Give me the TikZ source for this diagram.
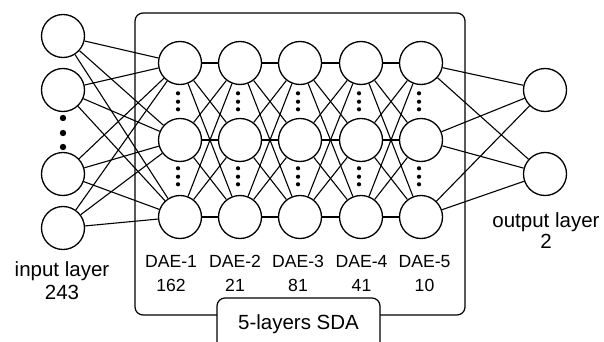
\documentclass[tikz,border=0pt]{standalone}
\usepackage{fontspec}
\setmainfont{Liberation Sans}
\begin{document}
\begin{tikzpicture}[x=1pt,y=-1pt,
  neuron/.style={circle,draw,line width=1.3pt,minimum size=43pt,inner sep=0pt,fill=white},
  link/.style={line width=1.1pt},
  bigdot/.style={circle,fill,inner sep=0pt,minimum size=6.4pt},
  smalldot/.style={circle,fill,inner sep=0pt,minimum size=4.2pt},
  biglabel/.style={font=\fontsize{20.5}{22}\selectfont,anchor=base,inner sep=0pt},
  daelabel/.style={font=\fontsize{17.6}{19}\selectfont,anchor=base,inner sep=0pt},
  frame/.style={draw,line width=1.2pt,rounded corners=8pt,inner sep=0pt}]
\useasboundingbox (0,0) rectangle (604,342);

% stacked autoencoder frame
\node[frame,minimum width=330pt,minimum height=302pt] (sda) at (300,164) {};

% input layer
\foreach \y [count=\i] in {36,90,174,228}
  \node[neuron] (i\i) at (63,\y) {};
\foreach \y [count=\k] in {118,133,147}
  \node[bigdot] (idot\k) at (63,\y) {};

% hidden layers DAE-1 ... DAE-5
\foreach \x [count=\c] in {180,240,300,361,421} {
  \foreach \y [count=\r] in {63,140,217}
    \node[neuron] (h\c\r) at (\x,\y) {};
  \foreach \y [count=\k] in {93.3,101.7,109.3,168.3,176.7,184.3}
    \node[smalldot] (hdot\c\k) at (\x-2,\y) {};
}

% output layer
\foreach \y [count=\j] in {90,174}
  \node[neuron] (o\j) at (545,\y) {};

% input -> DAE-1
\foreach \i in {1,...,4}
  \foreach \r in {1,2,3}
    \draw[link] (i\i) -- (h1\r);

% DAE-k -> DAE-(k+1)
\foreach \c [evaluate=\c as \n using int(\c+1)] in {1,...,4}
  \foreach \r in {1,2,3}
    \foreach \s in {1,2,3}
      \draw[link] (h\c\r) -- (h\n\s);

% DAE-5 -> output
\foreach \r in {1,2,3}
  \foreach \j in {1,2}
    \draw[link] (h5\r) -- (o\j);

% layer labels
\node[biglabel] (inlab) at (62,276) {input layer};
\node[biglabel] (innum) at (62,299.3) {243};
\node[biglabel] (outlab) at (546,227) {output layer};
\node[biglabel] (outnum) at (546,248.3) {2};

\foreach \x/\name/\num [count=\c] in {171/DAE-1/162,235/DAE-2/21,298/DAE-3/81,361.5/DAE-4/41,424.5/DAE-5/10} {
  \node[daelabel] (dae\c) at (\x,267.7) {\name};
  \node[daelabel] (daenum\c) at (\x,291) {\num};
}

% SDA tag
\node[frame,fill=white,minimum width=163pt,minimum height=56pt] (sdatag) at (298.5,326) {};
\node[biglabel] (sdalab) at (298.5,329.3) {5-layers SDA};
\end{tikzpicture}
\end{document}
